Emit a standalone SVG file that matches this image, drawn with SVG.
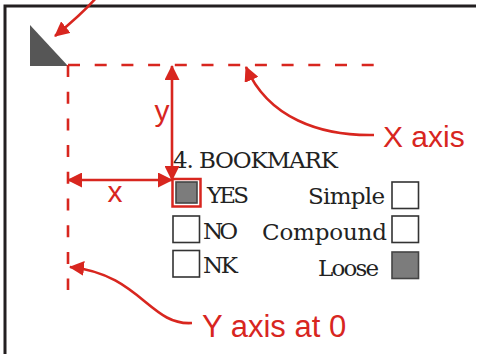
<svg xmlns="http://www.w3.org/2000/svg" width="478" height="354" viewBox="0 0 478 354">
<style>
.frame{fill:none;stroke:#231f20;stroke-width:3}
.dash{fill:none;stroke:#d8261f;stroke-width:2.6;stroke-dasharray:12 14.7}
.red{fill:none;stroke:#d8261f;stroke-width:2.6}
.lbl{font-family:"Liberation Sans",Arial,sans-serif;fill:#d8261f}
.form{font-family:"DejaVu Serif",serif;fill:#222;font-size:23px}
.box{fill:#fff;stroke:#333;stroke-width:1.6}
.filled{fill:#7c7c7c;stroke:#444;stroke-width:1.6}
</style>
<defs>
<marker id="ah" markerUnits="userSpaceOnUse" markerWidth="16" markerHeight="15" refX="14" refY="7.5" orient="auto-start-reverse" viewBox="0 0 16 15">
<path d="M0,0 L15,7.5 L0,15 Z" fill="#d8261f"/>
</marker>
</defs>
<rect width="478" height="354" fill="#fff"/>
<g id="frame">
<path class="frame" d="M5,354 V6 H476"/>
</g>
<g id="origin">
<path d="M30,25 L30,66 L68,66 Z" fill="#565656"/>
</g>
<g id="axes">
<path class="dash" d="M68,65 H374"/>
<path class="dash" d="M68,65 V290"/>
</g>
<g id="form">
<text class="form" x="173" y="168" font-size="22" textLength="165">4. BOOKMARK</text>
<rect class="filled" x="176" y="182" width="21" height="21" fill="#8a8a8a"/>
<rect x="172.5" y="179" width="28" height="27.5" fill="none" stroke="#d8261f" stroke-width="2.5"/>
<text class="form" x="207" y="203" textLength="42">YES</text>
<rect class="box" x="173" y="216" width="26.5" height="26.5"/>
<text class="form" x="203" y="239" textLength="35">NO</text>
<rect class="box" x="173" y="250.5" width="26.5" height="26.5"/>
<text class="form" x="203" y="273" textLength="35">NK</text>
<text class="form" x="385" y="204" text-anchor="end" textLength="77">Simple</text>
<rect class="box" x="392" y="182" width="26.5" height="26.5"/>
<text class="form" x="387" y="240" text-anchor="end" textLength="125">Compound</text>
<rect class="box" x="392" y="216" width="26.5" height="26.5"/>
<text class="form" x="379" y="276" text-anchor="end" textLength="61">Loose</text>
<rect class="filled" x="392" y="252" width="26.5" height="26.5"/>
</g>
<g id="labels">
<text class="lbl" x="162" y="121" font-size="30" text-anchor="middle">y</text>
<text class="lbl" x="115" y="202" font-size="30" text-anchor="middle">x</text>
<text class="lbl" x="383" y="147" font-size="30">X axis</text>
<text class="lbl" x="202" y="337" font-size="31">Y axis at 0</text>
</g>
<g id="connectors">
<path class="red" d="M172,66 V180" marker-start="url(#ah)" marker-end="url(#ah)"/>
<path class="red" d="M68,180 H172" marker-start="url(#ah)" marker-end="url(#ah)"/>
<path class="red" d="M96,-2 Q82,14 55,36" marker-end="url(#ah)"/>
<path class="red" d="M374,135 C320,136 268,118 246,67" marker-end="url(#ah)"/>
<path class="red" d="M192,323 C150,326 140,274 70,267" marker-end="url(#ah)"/>
</g>
</svg>
